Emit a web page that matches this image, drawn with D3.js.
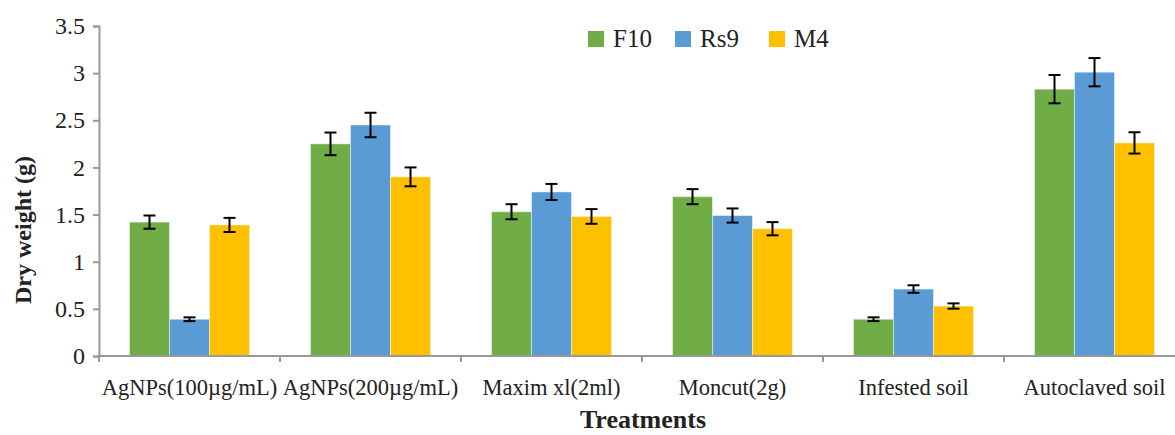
<!DOCTYPE html>
<html>
<head>
<meta charset="utf-8">
<script src="https://cdn.jsdelivr.net/npm/d3@7"></script>
<style>
  body { margin: 0; background: #fff; }
  svg text { font-family: "Palatino Linotype", "Book Antiqua", Palatino, "Liberation Serif", serif; fill: #222; }
</style>
</head>
<body>
<svg id="chart" width="1175" height="435"></svg>
<script>
// treatments along the x axis
const treatments = ['AgNPs(100µg/mL)', 'AgNPs(200µg/mL)', 'Maxim xl(2ml)', 'Moncut(2g)', 'Infested soil', 'Autoclaved soil'];
const seriesNames = ['F10', 'Rs9', 'M4'];
const seriesColors = ['#70AD47', '#5B9BD5', '#FFC000'];

// dry weight means (g), one array per isolate
const f10 = [1.42, 2.25, 1.53, 1.69, 0.39, 2.83];
const rs9 = [0.39, 2.45, 1.74, 1.49, 0.71, 3.01];
const m4  = [1.39, 1.90, 1.48, 1.35, 0.53, 2.26];

// error bar half-lengths
const f10Err = [0.07, 0.12, 0.08, 0.08, 0.02, 0.15];
const rs9Err = [0.02, 0.13, 0.085, 0.075, 0.04, 0.15];
const m4Err  = [0.075, 0.10, 0.078, 0.07, 0.028, 0.113];

const yTicks = [0, 0.5, 1, 1.5, 2, 2.5, 3, 3.5];

const svg = d3.select('#chart');
const margin = { left: 99, right: -10, top: 26, bottom: 79 };
const width = 1175, height = 435;

const values = [f10, rs9, m4];
const errs = [f10Err, rs9Err, m4Err];

// build rows for drawing
const rows = [];
treatments.forEach((t, i) => {
  seriesNames.forEach((s, j) => {
    rows.push({ treatment: t, series: s, value: values[j][i], err: errs[j][i], color: seriesColors[j] });
  });
});

// x scales: band for treatments, inner band for the three isolates
const x0 = d3.scaleBand()
  .domain(treatments)
  .range([margin.left, width - margin.right])
  .padding(0);

const innerW = x0.bandwidth() * 0.663; // bars take ~2/3 of the category
const x1 = d3.scaleBand()
  .domain(seriesNames)
  .range([(x0.bandwidth() - innerW) / 2, (x0.bandwidth() + innerW) / 2])
  .padding(0);

const y = d3.scaleLinear()
  .domain([0, 3.5])
  .range([height - margin.bottom, margin.top]);

// y axis
const yAxis = svg.append('g')
  .attr('transform', `translate(${margin.left},0)`)
  .call(d3.axisLeft(y).tickValues(yTicks).tickSize(6).tickPadding(8).tickFormat(d => d));
yAxis.select('.domain').attr('stroke', '#999').attr('stroke-width', 2);
yAxis.selectAll('.tick line').attr('stroke', '#999').attr('stroke-width', 2);
yAxis.selectAll('.tick text').attr('font-size', 24).attr('fill', '#222');

// bars
svg.append('g')
  .selectAll('rect')
  .data(rows)
  .join('rect')
    .attr('x', d => x0(d.treatment) + x1(d.series))
    .attr('y', d => y(d.value))
    .attr('width', x1.bandwidth())
    .attr('height', d => y(0) - y(d.value))
    .attr('fill', d => d.color)
    .attr('stroke', 'rgba(255,255,255,0.45)')
    .attr('stroke-width', 1);

// error bars
const eb = svg.append('g')
  .attr('stroke', '#000')
  .attr('stroke-width', 2)
  .selectAll('g')
  .data(rows)
  .join('g')
    .attr('transform', d => `translate(${x0(d.treatment) + x1(d.series) + x1.bandwidth() / 2},0)`);
eb.append('line')
  .attr('y1', d => y(d.value + d.err))
  .attr('y2', d => y(d.value - d.err));
eb.append('line')
  .attr('x1', -6).attr('x2', 6)
  .attr('y1', d => y(d.value + d.err))
  .attr('y2', d => y(d.value + d.err));
eb.append('line')
  .attr('x1', -6).attr('x2', 6)
  .attr('y1', d => y(d.value - d.err))
  .attr('y2', d => y(d.value - d.err));

// x axis with ticks on category boundaries
const xAxis = svg.append('g')
  .attr('transform', `translate(0,${y(0)})`);
xAxis.append('line')
  .attr('x1', margin.left).attr('x2', width - margin.right)
  .attr('stroke', '#999').attr('stroke-width', 2);
xAxis.selectAll('.sep')
  .data(treatments)
  .join('line')
    .attr('class', 'sep')
    .attr('x1', d => x0(d)).attr('x2', d => x0(d))
    .attr('y1', 0).attr('y2', 6)
    .attr('stroke', '#999').attr('stroke-width', 2);
xAxis.selectAll('text')
  .data(treatments)
  .join('text')
    .attr('x', d => x0(d) + x0.bandwidth() / 2)
    .attr('y', 39)
    .attr('text-anchor', 'middle')
    .attr('font-size', 22.5)
    .text(d => d);

// axis titles
svg.append('text')
  .attr('x', 643)
  .attr('y', 428)
  .attr('text-anchor', 'middle')
  .attr('font-size', 26)
  .attr('font-weight', 'bold')
  .text('Treatments');

svg.append('text')
  .attr('transform', 'translate(31,230) rotate(-90)')
  .attr('text-anchor', 'middle')
  .attr('font-size', 24)
  .attr('font-weight', 'bold')
  .text('Dry weight (g)');

// legend
const legendX = [588, 675, 769];
const legend = svg.append('g')
  .selectAll('g')
  .data(seriesNames)
  .join('g')
    .attr('transform', (d, i) => `translate(${legendX[i]},31)`);
legend.append('rect')
  .attr('width', 16).attr('height', 16)
  .attr('fill', (d, i) => seriesColors[i]);
legend.append('text')
  .attr('x', 25)
  .attr('y', 16)
  .attr('font-size', 25)
  .text(d => d);
</script>
</body>
</html>
